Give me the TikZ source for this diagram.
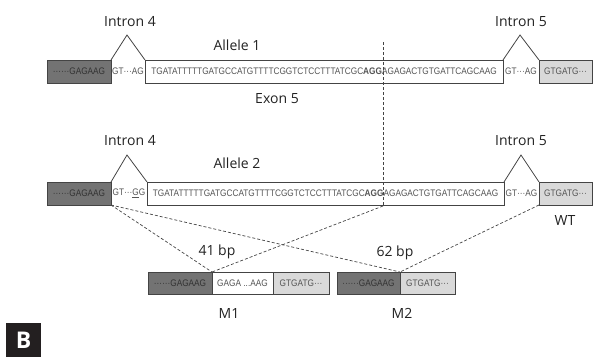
\documentclass[tikz,border=0pt]{standalone}
\usepackage{fontspec}
\usepackage{graphicx}
\setmainfont{Open Sans}
\newfontfamily\seqfont{Liberation Sans}
\definecolor{darkg}{HTML}{737373}
\definecolor{lightg}{HTML}{D9D9D9}
\definecolor{edgec}{HTML}{444444}
\definecolor{seqc}{HTML}{555555}
\definecolor{labc}{HTML}{222222}
\definecolor{bdark}{HTML}{231F20}
\newcommand{\sq}[1]{{\seqfont\fontsize{9.5}{9.5}\selectfont\scalebox{0.87}[1]{#1}}}
\tikzset{
  seg/.style={draw=edgec, line width=0.8pt, anchor=north west, inner sep=0pt, outer sep=0pt,
              minimum height=23pt, text=seqc},
  dbox/.style={seg, fill=darkg, text=black!80},
  wbox/.style={seg, fill=white},
  lbox/.style={seg, fill=lightg},
  intr/.style={text=seqc, inner sep=0pt},
  lab/.style={text=labc, font=\fontsize{14}{14}\selectfont, inner sep=0pt},
  tri/.style={draw=edgec, line width=0.8pt},
  dsh/.style={draw=edgec, line width=0.7pt, dash pattern=on 3pt off 2pt},
}
\begin{document}
\begin{tikzpicture}[x=1pt,y=-1pt]
\useasboundingbox (0,0) rectangle (593,359);
% Row 1
\node[dbox, minimum width=64pt] (d1) at (47,60) {\sq{······GAGAAG}};
\node[intr] (ia1) at (128,71.5) {\sq{GT···AG}};
\node[wbox, minimum width=358pt] (e1) at (145,60) {\sq{TGATATTTTTGATGCCATGTTTTCGGTCTCCTTTATCGC{\bfseries AGG}AGAGACTGTGATTCAGCAAG}};
\node[intr] (ib1) at (521,71.5) {\sq{GT···AG}};
\node[lbox, minimum width=53pt] (l1) at (539,60) {\sq{GTGATG···}};
\coordinate (ta1) at (127,35);
\coordinate (tb1) at (520,35);
\draw[tri] (d1.north east) -- (ta1) -- (e1.north west);
\draw[tri] (e1.north east) -- (tb1) -- (l1.north west);
\node[lab] (in4a) at (130,22) {Intron 4};
\node[lab] (in5a) at (521,22) {Intron 5};
\node[lab] (al1) at (237,45) {Allele 1};
\node[lab] (ex5) at (277,99) {Exon 5};
% Row 2
\node[dbox, minimum width=64pt] (d2) at (47,182) {\sq{······GAGAAG}};
\node[intr] (ia2) at (129,193.5) {\sq{GT···\underline{G}G}};
\node[wbox, minimum width=357pt] (e2) at (147,182) {\sq{TGATATTTTTGATGCCATGTTTTCGGTCTCCTTTATCGC{\bfseries AGG}AGAGACTGTGATTCAGCAAG}};
\node[intr] (ib2) at (521.5,193.5) {\sq{GT···AG}};
\node[lbox, minimum width=53pt] (l2) at (539,182) {\sq{GTGATG···}};
\coordinate (ta2) at (127,155);
\coordinate (tb2) at (521,155);
\draw[tri] (d2.north east) -- (ta2) -- (e2.north west);
\draw[tri] (e2.north east) -- (tb2) -- (l2.north west);
\node[lab] (in4b) at (130,141) {Intron 4};
\node[lab] (in5b) at (521,141) {Intron 5};
\node[lab] (al2) at (237,163) {Allele 2};
\node[lab] (wt) at (565,220) {WT};
% vertical dashed line
\coordinate (vtop) at (383,42);
\coordinate (vbot) at (383,206);
\draw[dsh] (vtop) -- (vbot);
% M1 and M2
\node[dbox, minimum width=64pt, minimum height=22pt] (m1d) at (148,272) {\sq{······GAGAAG}};
\node[wbox, minimum width=61pt, minimum height=22pt] (m1w) at (212,272) {\sq{GAGA ...AAG}};
\node[lbox, minimum width=56pt, minimum height=22pt] (m1l) at (273,272) {\sq{GTGATG···}};
\node[dbox, minimum width=63pt, minimum height=22pt] (m2d) at (337,272) {\sq{······GAGAAG}};
\node[lbox, minimum width=55pt, minimum height=22pt] (m2l) at (400,272) {\sq{GTGATG···}};
\draw[dsh] (d2.south east) -- (m1d.north east);
\draw[dsh] (d2.south east) -- (m2d.north east);
\draw[dsh] (vbot) -- (m1d.north east);
\draw[dsh] (l2.south west) -- (m2d.north east);
\node[lab] (bp41) at (217,252) {41 bp};
\node[lab] (bp62) at (395,253) {62 bp};
\node[lab] (m1lab) at (229,313) {M1};
\node[lab] (m2lab) at (402,313) {M2};
% panel letter
\node[fill=bdark, text=white, anchor=north west, minimum width=35pt, minimum height=34pt, inner sep=0pt,
      font=\fontsize{23}{23}\selectfont\bfseries] (panel) at (6,323) {B};
\end{tikzpicture}
\end{document}
